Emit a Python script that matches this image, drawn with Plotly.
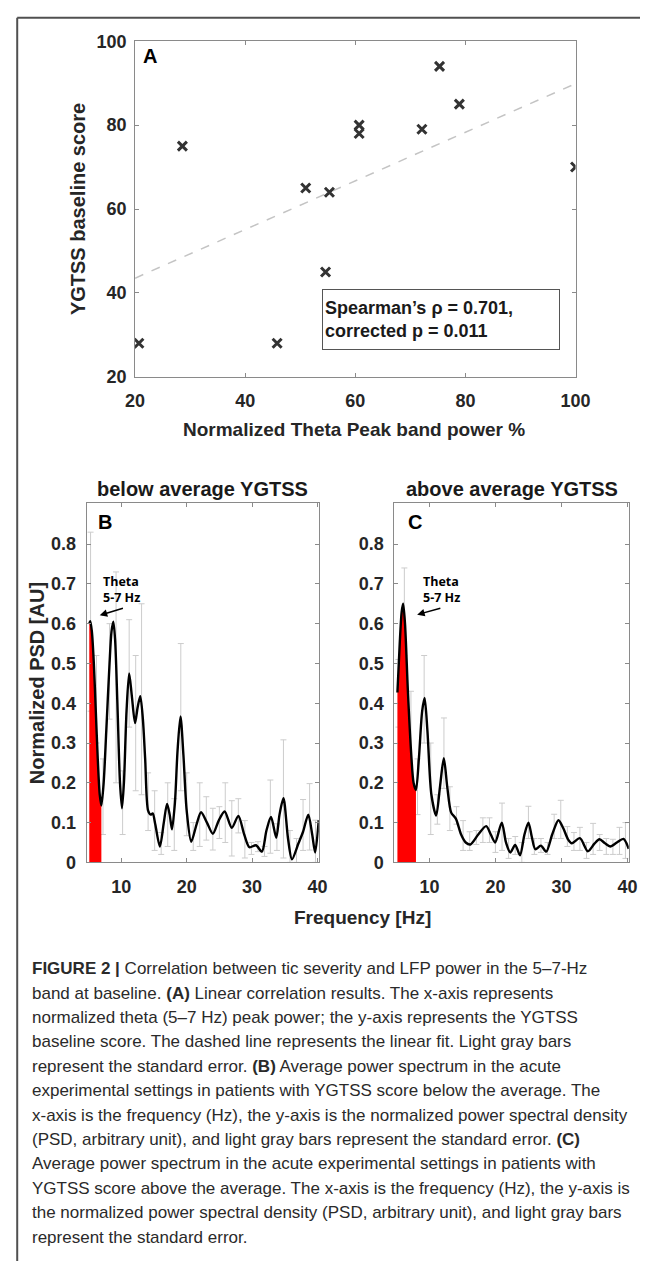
import numpy as np
import plotly.graph_objects as go

# ---------------- data ----------------
# Panel A: scatter
theta_power_pct = [20.7, 28.6, 45.8, 51.0, 54.6, 55.3, 60.7, 60.7, 72.1, 75.3, 78.9, 100.0]
ygtss_baseline = [28, 75, 28, 65, 45, 64, 80, 78, 79, 94, 85, 70]

# Panel B: below average YGTSS, mean spectrum
freq_b = [5.1, 5.25, 5.5, 5.8, 6.1, 6.4, 6.7, 6.95, 7.3, 7.7, 8.2, 8.5, 8.78, 9.05, 9.4,
          9.8, 10.1, 10.4, 10.8, 11.2, 11.6, 12.1, 12.5, 12.9, 13.3, 13.65, 14.1, 14.5,
          14.8, 15.2, 15.9, 16.5, 17.0, 17.4, 17.75, 18.2, 18.6, 19.05, 19.5, 20.0, 20.7,
          21.5, 22.2, 23.1, 24.0, 24.9, 25.8, 26.9, 27.9, 28.8, 29.6, 30.6, 31.5, 32.2,
          32.9, 33.7, 34.2, 34.8, 35.5, 36.1, 37.1, 37.8, 38.6, 39.2, 39.65, 40.2]
psd_b = [0.60, 0.606, 0.58, 0.50, 0.38, 0.26, 0.17, 0.143, 0.20, 0.33, 0.50, 0.58, 0.605, 0.56, 0.40,
         0.20, 0.136, 0.20, 0.38, 0.475, 0.42, 0.35, 0.39, 0.418, 0.36, 0.26, 0.13, 0.12,
         0.123, 0.095, 0.040, 0.10, 0.147, 0.12, 0.083, 0.15, 0.28, 0.367, 0.27, 0.13, 0.052,
         0.095, 0.126, 0.10, 0.072, 0.105, 0.128, 0.087, 0.117, 0.07, 0.038, 0.043, 0.027, 0.08,
         0.114, 0.062, 0.12, 0.161, 0.06, 0.008, 0.048, 0.077, 0.12, 0.07, 0.025, 0.106]

# Panel C: above average YGTSS, mean spectrum
freq_c = [5.15, 5.5, 5.8, 6.02, 6.3, 6.74, 7.23, 7.6, 7.96, 8.4, 8.9, 9.27, 9.7, 10.3, 11.02,
          11.6, 12.18, 12.7, 13.3, 14.0, 14.8, 15.5, 16.2, 17.4, 18.6, 19.3, 19.95, 20.96,
          21.6, 22.25, 23.0, 23.72, 24.4, 25.0, 25.5, 26.05, 26.88, 27.7, 28.6, 29.55, 30.3,
          31.0, 31.58, 32.8, 34.0, 35.0, 35.76, 36.6, 37.4, 38.4, 39.4, 40.2]
psd_c = [0.427, 0.55, 0.63, 0.650, 0.60, 0.43, 0.275, 0.20, 0.182, 0.26, 0.38, 0.413, 0.33, 0.17, 0.118,
         0.19, 0.262, 0.19, 0.125, 0.11, 0.07, 0.05, 0.045, 0.07, 0.091, 0.07, 0.050, 0.10,
         0.05, 0.025, 0.044, 0.018, 0.07, 0.10, 0.065, 0.033, 0.042, 0.027, 0.07, 0.106, 0.085,
         0.058, 0.048, 0.061, 0.028, 0.047, 0.058, 0.048, 0.04, 0.05, 0.059, 0.034]

# theta band shading limits (Hz)
theta_band_b = [5.1, 6.95]
theta_band_c = [5.15, 7.96]

# standard error bars (frequency bins, upper and lower ends)
se_freq = [5.3, 6.2, 7.2, 8.2, 9.2, 10.2, 11.2, 12.2, 13.1, 14.1, 15.1, 16.1, 17.1, 18.1, 19.1,
           20.0, 21.0, 22.0, 23.0, 24.0, 25.0, 25.9, 26.9, 27.9, 28.9, 29.9, 30.9, 31.9, 32.8,
           33.8, 34.8, 35.8, 36.8, 37.8, 38.8, 39.7]
se_top_b = [0.83, 0.52, 0.26, 0.60, 0.73, 0.23, 0.61, 0.52, 0.65, 0.225, 0.18, 0.075, 0.20, 0.16, 0.55,
            0.225, 0.10, 0.20, 0.165, 0.136, 0.14, 0.20, 0.155, 0.16, 0.105, 0.05, 0.052, 0.04, 0.207,
            0.097, 0.308, 0.08, 0.06, 0.158, 0.198, 0.106]
se_bot_b = [0.38, 0.30, 0.07, 0.36, 0.20, 0.07, 0.34, 0.18, 0.17, 0.08, 0.03, 0.02, 0.04, 0.03, 0.18,
            0.067, 0.03, 0.04, 0.056, 0.031, 0.06, 0.05, 0.016, 0.074, 0.011, 0.02, 0.027, 0.015, 0.023,
            0.03, 0.011, 0.0, 0.0, 0.03, 0.031, 0.0]
se_top_c = [0.51, 0.74, 0.43, 0.26, 0.52, 0.30, 0.17, 0.363, 0.19, 0.14, 0.105, 0.077, 0.08, 0.112, 0.112,
            0.077, 0.149, 0.06, 0.065, 0.05, 0.141, 0.06, 0.06, 0.05, 0.121, 0.156, 0.09, 0.075, 0.088,
            0.05, 0.098, 0.07, 0.06, 0.058, 0.088, 0.10]
se_bot_c = [0.34, 0.52, 0.13, 0.12, 0.30, 0.07, 0.096, 0.186, 0.08, 0.096, 0.03, 0.03, 0.045, 0.05, 0.05,
            0.025, 0.03, 0.01, 0.02, 0.0, 0.06, 0.02, 0.025, 0.02, 0.06, 0.06, 0.04, 0.03, 0.03,
            0.01, 0.02, 0.03, 0.02, 0.02, 0.02, 0.01]

caption_lines = [
    "<b>FIGURE 2 |</b> Correlation between tic severity and LFP power in the 5–7-Hz",
    "band at baseline. <b>(A)</b> Linear correlation results. The x-axis represents",
    "normalized theta (5–7 Hz) peak power; the y-axis represents the YGTSS",
    "baseline score. The dashed line represents the linear fit. Light gray bars",
    "represent the standard error. <b>(B)</b> Average power spectrum in the acute",
    "experimental settings in patients with YGTSS score below the average. The",
    "x-axis is the frequency (Hz), the y-axis is the normalized power spectral density",
    "(PSD, arbitrary unit), and light gray bars represent the standard error. <b>(C)</b>",
    "Average power spectrum in the acute experimental settings in patients with",
    "YGTSS score above the average. The x-axis is the frequency (Hz), the y-axis is",
    "the normalized power spectral density (PSD, arbitrary unit), and light gray bars",
    "represent the standard error.",
]

# ---------------- layout helpers ----------------
W, H = 655, 1271
FONT = "Liberation Sans, Arial, Helvetica, sans-serif"


def px(x):
    return x / W


def py(y):
    return 1 - y / H


fig = go.Figure()

# ---- Panel A ----
slope, icpt = np.polyfit(theta_power_pct, ygtss_baseline, 1)
fit_x = np.array([20.0, 100.0])
fig.add_trace(go.Scatter(x=fit_x, y=slope * fit_x + icpt, mode="lines",
                         line=dict(color="#c4c4c4", width=1.5, dash="dash"),
                         xaxis="x", yaxis="y", showlegend=False, hoverinfo="skip"))
fig.add_trace(go.Scatter(x=theta_power_pct, y=ygtss_baseline, mode="markers",
                         marker=dict(symbol="x-thin", size=9, color="#333333",
                                     line=dict(width=3, color="#333333")),
                         xaxis="x", yaxis="y", showlegend=False))


def add_spectrum(freq, psd, band, top, bot, xa, ya):
    mid = [(t + b) / 2 for t, b in zip(top, bot)]
    half = [(t - b) / 2 for t, b in zip(top, bot)]
    fig.add_trace(go.Scatter(x=se_freq, y=mid, mode="markers",
                             marker=dict(size=1, color="rgba(0,0,0,0)"),
                             error_y=dict(type="data", array=half, symmetric=True,
                                          color="#cccccc", thickness=1, width=3),
                             xaxis=xa, yaxis=ya, showlegend=False, hoverinfo="skip"))
    fx = [f for f in freq if band[0] <= f <= band[1]]
    fy = [v for f, v in zip(freq, psd) if band[0] <= f <= band[1]]
    fig.add_trace(go.Scatter(x=fx, y=fy, mode="lines", line=dict(width=0, shape="spline", color="red"),
                             fill="tozeroy", fillcolor="#ff0000",
                             xaxis=xa, yaxis=ya, showlegend=False, hoverinfo="skip"))
    fig.add_trace(go.Scatter(x=freq, y=psd, mode="lines",
                             line=dict(color="black", width=2.4, shape="spline", smoothing=0.8),
                             xaxis=xa, yaxis=ya, showlegend=False))


add_spectrum(freq_b, psd_b, theta_band_b, se_top_b, se_bot_b, "x2", "y2")
add_spectrum(freq_c, psd_c, theta_band_c, se_top_c, se_bot_c, "x3", "y3")

axis_style = dict(showline=True, linecolor="#8a8a8a", linewidth=1, mirror="ticks",
                  ticks="inside", ticklen=4, tickcolor="#8a8a8a", showgrid=False,
                  zeroline=False,
                  tickfont=dict(family=FONT, size=18, color="#262626", weight="bold"))

fig.update_layout(
    width=W, height=H, margin=dict(l=0, r=0, t=0, b=0),
    paper_bgcolor="white", plot_bgcolor="white", showlegend=False,
    xaxis=dict(domain=[px(130), px(588)], range=[20, 100], tickvals=[20, 40, 60, 80, 100],
               anchor="y", ticklabelstandoff=8, **axis_style),
    yaxis=dict(domain=[py(372.7), py(31.7)], range=[20, 100], tickvals=[20, 40, 60, 80, 100],
               anchor="x", ticklabelstandoff=4, **axis_style),
    xaxis2=dict(domain=[px(79.7), px(321)], range=[4.7, 40.2], tickvals=[10, 20, 30, 40],
                anchor="y2", ticklabelstandoff=8, **axis_style),
    yaxis2=dict(domain=[py(866), py(501)], range=[0, 0.903],
                tickvals=[0, 0.1, 0.2, 0.3, 0.4, 0.5, 0.6, 0.7, 0.8],
                anchor="x2", ticklabelstandoff=6, **axis_style),
    xaxis3=dict(domain=[px(399.7), px(643.3)], range=[4.7, 40.2], tickvals=[10, 20, 30, 40],
                anchor="y3", ticklabelstandoff=8, **axis_style),
    yaxis3=dict(domain=[py(866), py(501)], range=[0, 0.903],
                tickvals=[0, 0.1, 0.2, 0.3, 0.4, 0.5, 0.6, 0.7, 0.8],
                anchor="x3", ticklabelstandoff=6, **axis_style),
)

ann = []


def text(x, y, s, size, bold=True, angle=0, xanchor="center", color="#262626", family=FONT):
    ann.append(dict(x=px(x), y=py(y), xref="paper", yref="paper", text=s, showarrow=False,
                    xanchor=xanchor, yanchor="middle", textangle=angle,
                    font=dict(family=family, size=size, color=color,
                              weight="bold" if bold else "normal")))


# Panel A texts
text(146, 47, "A", 20, color="black")
text(71, 202, "YGTSS baseline score", 20, angle=-90)
text(358, 426, "Normalized Theta Peak band power %", 19)
ann.append(dict(x=px(324), y=py(283), xref="paper", yref="paper", xanchor="left", yanchor="top",
                text="Spearman’s ρ = 0.701,<br>corrected p = 0.011", showarrow=False, align="left",
                width=232, height=55, borderpad=2, bordercolor="#555555", borderwidth=1,
                bgcolor="white", valign="middle",
                font=dict(family=FONT, size=18, color="#1a1a1a", weight="bold")))

# Panel B/C texts
text(200, 487, "below average YGTSS", 20, color="#1a1a1a")
text(522, 487, "above average YGTSS", 20, color="#1a1a1a")
text(99, 520, "B", 20, color="black")
text(421, 520, "C", 20, color="black")
text(28, 684, "Normalized PSD [AU]", 20, angle=-90)
text(367, 922, "Frequency [Hz]", 19)

for tx, (hx, hy), (tlx, tly) in [(95, (93.3, 615), (118, 607.5)),
                                  (427, (423.3, 614.3), (448, 607.5))]:
    ann.append(dict(x=px(tx), y=py(589), xref="paper", yref="paper", xanchor="left",
                    yanchor="middle", text="Theta<br>5-7 Hz", showarrow=False, align="left",
                    font=dict(family="Open Sans, sans-serif", size=12.5, color="black",
                              weight="bold")))
    ann.append(dict(x=px(hx), y=py(hy), xref="paper", yref="paper", text="",
                    showarrow=True, arrowhead=2, arrowsize=1, arrowwidth=1.5,
                    arrowcolor="black", ax=tlx - hx, ay=tly - hy))

# Caption
for i, line in enumerate(caption_lines):
    ann.append(dict(x=px(21), y=py(974 + i * 24.8), xref="paper", yref="paper",
                    xanchor="left", yanchor="middle", text=line, showarrow=False,
                    font=dict(family=FONT, size=17, color="#2a2a2a")))

fig.update_layout(annotations=ann)

# outer frame (top and left rules)
fig.add_shape(type="line", xref="paper", yref="paper", x0=px(7.5), x1=1, y0=py(8), y1=py(8),
              line=dict(color="#505050", width=2))
fig.add_shape(type="line", xref="paper", yref="paper", x0=px(7.5), x1=px(7.5), y0=py(8), y1=0,
              line=dict(color="#505050", width=2))

fig.write_html("out.html", config={"displayModeBar": False},
               post_script="document.body.style.margin='0';document.body.style.padding='0';"
                           "document.body.style.overflow='hidden';")
